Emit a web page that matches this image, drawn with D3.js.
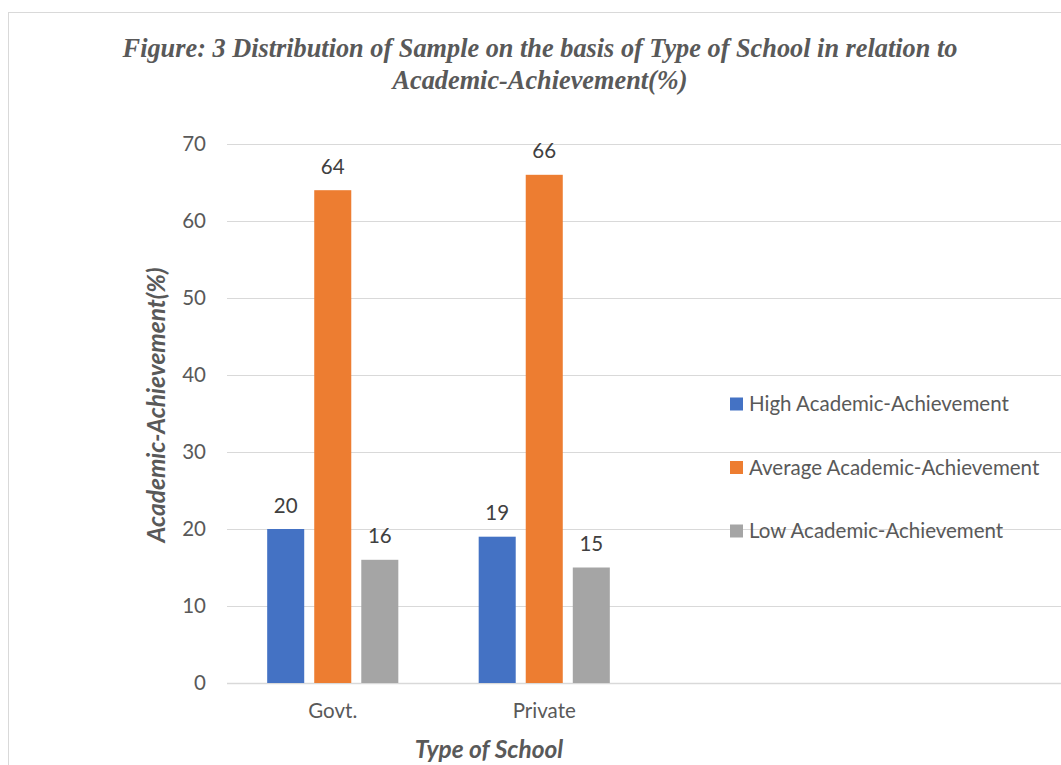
<!DOCTYPE html>
<html><head><meta charset="utf-8">
<script src="https://cdn.jsdelivr.net/npm/d3@7/dist/d3.min.js"></script>
<style>body{margin:0;background:#fff;}svg{display:block;}</style>
</head><body>
<svg id="chart" width="1061" height="765"></svg>
<script>
const categories = ["Govt.", "Private"];
const seriesNames = ["High Academic-Achievement", "Average Academic-Achievement", "Low Academic-Achievement"];
const highValues = [20, 19];
const averageValues = [64, 66];
const lowValues = [16, 15];
const yTicks = [0, 10, 20, 30, 40, 50, 60, 70];
const colors = ["#4472C4", "#ED7D31", "#A5A5A5"];
const titleLines = ["Figure: 3 Distribution of Sample on the basis of Type of School in relation to", "Academic-Achievement(%)"];
const yTitle = "Academic-Achievement(%)";
const xTitle = "Type of School";

const seriesValues = [highValues, averageValues, lowValues];
const svg = d3.select("#chart");
const font = "Lato, 'Open Sans', sans-serif";
const textColor = "#595959";
const fs = 20.5;

// frame
svg.append("rect").attr("x", 8.5).attr("y", 12.5).attr("width", 1100).attr("height", 800)
  .attr("fill", "none").attr("stroke", "#d9d9d9").attr("stroke-width", 1);

// title
svg.append("g").selectAll("text").data(titleLines).join("text")
  .attr("x", 540).attr("y", (d, i) => 57 + i * 32)
  .attr("text-anchor", "middle")
  .attr("font-family", "'Liberation Serif', serif")
  .attr("font-weight", "bold").attr("font-style", "italic")
  .attr("font-size", 26.3).attr("fill", textColor)
  .text(d => d);

const y = d3.scaleLinear().domain([0, 70]).range([683, 144]);
const x0 = d3.scaleBand().domain(categories).range([227, 650]).paddingInner(0.38).paddingOuter(0.19);
const x1 = d3.scaleBand().domain(d3.range(seriesNames.length)).range([0, x0.bandwidth()]).paddingInner(0.213).paddingOuter(0);

// gridlines
const gridRight = 1061;
svg.append("g").selectAll("line").data(yTicks).join("line")
  .attr("x1", 227).attr("x2", gridRight)
  .attr("y1", d => Math.round(y(d)) + 0.5).attr("y2", d => Math.round(y(d)) + 0.5)
  .attr("stroke", "#d9d9d9").attr("stroke-width", d => d === 0 ? 1.5 : 1);

// y axis labels
const yAxis = d3.axisLeft(y).tickValues(yTicks).tickSize(0).tickPadding(0);
const yg = svg.append("g").attr("transform", "translate(206,0)").call(yAxis);
yg.select(".domain").remove();
yg.selectAll("text").attr("font-family", font).attr("font-size", fs).attr("fill", textColor);

// bars
const groups = svg.append("g").selectAll("g").data(categories).join("g")
  .attr("transform", d => `translate(${x0(d)},0)`);
groups.selectAll("rect").data((c, ci) => seriesValues.map((vals, si) => ({si, v: vals[ci]}))).join("rect")
  .attr("x", d => x1(d.si)).attr("width", x1.bandwidth())
  .attr("y", d => y(d.v)).attr("height", d => y(0) - y(d.v))
  .attr("fill", d => colors[d.si]);
groups.selectAll("text").data((c, ci) => seriesValues.map((vals, si) => ({si, v: vals[ci]}))).join("text")
  .attr("x", d => x1(d.si) + x1.bandwidth() / 2)
  .attr("y", d => y(d.v) - 16.5)
  .attr("text-anchor", "middle")
  .attr("font-family", font).attr("font-size", fs).attr("fill", "#404040")
  .text(d => d.v);

// x axis labels
const xAxis = d3.axisBottom(x0).tickSize(0).tickPadding(0);
const xg = svg.append("g").attr("transform", "translate(0,703)").call(xAxis);
xg.select(".domain").remove();
xg.selectAll("text").attr("font-family", font).attr("font-size", fs).attr("fill", textColor).attr("dy", "0.71em");

// axis titles
svg.append("text").attr("x", 489).attr("y", 758).attr("text-anchor", "middle")
  .attr("font-family", font).attr("font-weight", "bold").attr("font-style", "italic")
  .attr("font-size", 24.5).attr("fill", textColor).text(xTitle);
svg.append("text").attr("transform", "translate(165,405) rotate(-90)").attr("text-anchor", "middle")
  .attr("font-family", font).attr("font-weight", "bold").attr("font-style", "italic")
  .attr("font-size", 24.5).attr("fill", textColor).text(yTitle);

// legend
const legend = svg.append("g").selectAll("g").data(seriesNames).join("g")
  .attr("transform", (d, i) => `translate(730,${404 + i * 63.5})`);
legend.append("rect").attr("x", 0).attr("y", -6.5).attr("width", 13).attr("height", 13)
  .attr("fill", (d, i) => colors[i]);
legend.append("text").attr("x", 19).attr("y", 0).attr("dy", "0.35em")
  .attr("font-family", font).attr("font-size", fs).attr("fill", textColor).text(d => d);
</script>
</body></html>
